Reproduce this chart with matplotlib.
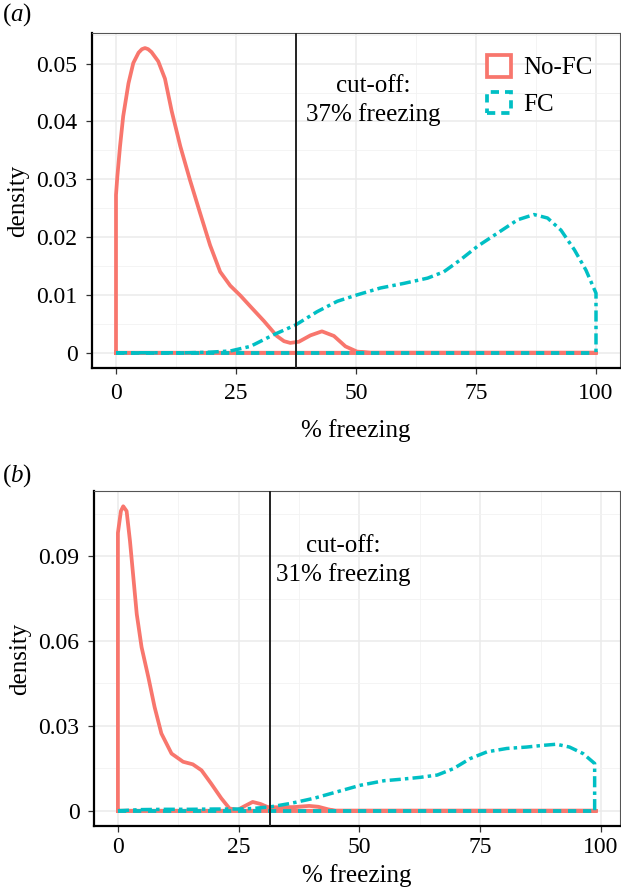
import matplotlib
matplotlib.use("Agg")
import matplotlib.pyplot as plt
from matplotlib.patches import Patch
from matplotlib.ticker import FixedLocator

plt.rcParams['font.family'] = ['Liberation Serif', 'DejaVu Serif']
plt.rcParams['mathtext.fontset'] = 'custom'
plt.rcParams['mathtext.rm'] = 'Liberation Serif'
plt.rcParams['mathtext.it'] = 'Liberation Serif:italic'

RED = '#F8766D'
TEAL = '#00BFC4'

# ---------------- data ----------------
# panel (a)
a_nofc_x = [0, 0, 0.28, 0.84, 1.5, 2.6, 3.6, 4.7, 5.4, 6.05, 6.7, 7.4, 8.8, 10.2, 11.6,
            13.4, 15.4, 17.5, 19.6, 21.7, 23.8, 25.9, 28.0, 30.8, 33.5, 35.0, 36.3,
            38.1, 40.5, 42.9, 45.4, 47.8, 50.2, 53, 100]
a_nofc_y = [0, 0.0273, 0.0305, 0.0357, 0.0409, 0.0466, 0.0501, 0.0519, 0.0525, 0.0527,
            0.0525, 0.0520, 0.0504, 0.0474, 0.0418, 0.0357, 0.0299, 0.0242, 0.0186,
            0.0140, 0.0116, 0.0099, 0.0080, 0.0055, 0.0029, 0.0020, 0.0017, 0.0019,
            0.0030, 0.0037, 0.0029, 0.0011, 0.0002, 0.0, 0.0]
a_fc_x = [0, 15, 19.6, 23.8, 28.0, 32.8, 37.4, 41.9, 46.1, 50.2, 55.1, 60.0, 64.9,
          68.3, 71.8, 75.3, 79.5, 83.7, 87.1, 89.9, 92.7, 95.5, 97.9, 100, 100]
a_fc_y = [0, 0, 0.0001, 0.0003, 0.0011, 0.0031, 0.0048, 0.0071, 0.0089, 0.0100,
          0.0112, 0.0120, 0.0129, 0.0140, 0.0161, 0.0184, 0.0207, 0.0230, 0.0239,
          0.0233, 0.0212, 0.0178, 0.0143, 0.0103, 0]

# panel (b)
b_nofc_x = [0, 0, 0.62, 1.1, 1.8, 2.5, 3.2, 3.9, 4.9, 6.3, 7.6, 9.0, 11.1, 13.5, 15.5,
            17.3, 19.3, 21.4, 23.1, 24.8, 26.2, 27.9, 29.5, 31.0, 33.5, 36.5, 39.6,
            41.5, 43.5, 45.0, 99]
b_nofc_y = [0, 0.0982, 0.1059, 0.1076, 0.1059, 0.0953, 0.0824, 0.0695, 0.0578,
            0.0472, 0.0366, 0.0273, 0.0202, 0.0173, 0.0164, 0.0143, 0.0096, 0.0044,
            0.0008, 0.0003, 0.0016, 0.0031, 0.0024, 0.0013, 0.0012, 0.0013, 0.0017,
            0.0014, 0.0005, 0.0, 0.0]
b_fc_x = [0, 5, 10, 15, 20, 25, 28, 31.7, 35.8, 40.6, 45.4, 50.2, 55.1, 58.5, 62.6,
          66.1, 69.5, 72.9, 76.4, 80.5, 84.6, 88.0, 90.8, 93.5, 96.3, 98.7, 98.7]
b_fc_y = [0, 0.0004, 0.0005, 0.0005, 0.0006, 0.0006, 0.0008, 0.0014, 0.0026, 0.0044,
          0.0067, 0.0090, 0.0106, 0.0111, 0.0118, 0.0126, 0.0149, 0.0184, 0.0208,
          0.0220, 0.0225, 0.0231, 0.0235, 0.0225, 0.0202, 0.0167, 0]

cutoffs = [37.4, 31.5]
cutoff_texts = ['cut-off:\n37% freezing', 'cut-off:\n31% freezing']
x_ticks = [0, 25, 50, 75, 100]
x_ticklabels = ['0', '25', '50', '75', '100']
a_yticks = [0, 0.01, 0.02, 0.03, 0.04, 0.05]
a_yticklabels = ['0', '0.01', '0.02', '0.03', '0.04', '0.05']
b_yticks = [0, 0.03, 0.06, 0.09]
b_yticklabels = ['0', '0.03', '0.06', '0.09']
series_labels = ['No-FC', 'FC']

# ---------------- figure ----------------
W, H = 621, 888
fig = plt.figure(figsize=(W / 100, H / 100), dpi=100)


def px_axes(l, t, r, b):
    return fig.add_axes([l / W, 1 - b / H, (r - l) / W, (b - t) / H])


ax_a = px_axes(92, 33, 620, 368)
ax_b = px_axes(94, 491, 620, 826)

FC_DASH = (0, (3.2, 1.2, 1.0, 1.2))


def style(ax, yticks, yticklabels, xlim, ylim, yminor, xpad, xlabelpad):
    ax.set_xlim(*xlim)
    ax.set_ylim(*ylim)
    ax.xaxis.set_major_locator(FixedLocator(x_ticks))
    ax.set_xticklabels(x_ticklabels)
    ax.yaxis.set_major_locator(FixedLocator(yticks))
    ax.set_yticklabels(yticklabels)
    ax.xaxis.set_minor_locator(FixedLocator([12.5, 37.5, 62.5, 87.5]))
    ax.yaxis.set_minor_locator(FixedLocator(yminor))
    ax.grid(True, which='major', color='#EBEBEB', linewidth=1.1, zorder=0)
    ax.grid(True, which='minor', color='#F2F2F2', linewidth=0.6, zorder=0)
    ax.set_axisbelow(True)
    ax.tick_params(axis='both', which='major', labelsize=17, length=4,
                   width=0.9, color='#333333', labelcolor='black')
    ax.tick_params(axis='x', which='major', pad=xpad)
    ax.tick_params(axis='y', which='major', pad=6.5)
    ax.tick_params(axis='both', which='minor', length=0)
    for s in ['left', 'bottom']:
        ax.spines[s].set_color('black')
        ax.spines[s].set_linewidth(1.6)
    for s in ['top', 'right']:
        ax.spines[s].set_color('#555555')
        ax.spines[s].set_linewidth(0.8)
    ax.set_ylabel('density', fontsize=18, labelpad=5)
    ax.set_xlabel('% freezing', fontsize=18, labelpad=xlabelpad)


def draw(ax, nx, ny, fx, fy, cut, ctext, ctx, cty):
    ax.plot(nx + nx[:1], ny + ny[:1], color=RED, lw=2.7, solid_joinstyle='round', zorder=3)
    ax.plot([nx[0], nx[-1]], [0, 0], color=RED, lw=2.7, zorder=3)
    ax.plot(fx, fy, color=TEAL, lw=2.5, linestyle=FC_DASH, zorder=4)
    ax.plot([fx[0], fx[-1]], [0, 0], color=TEAL, lw=2.7, linestyle=(0, (2.2, 1.8)), zorder=4)
    ax.axvline(cut, color='#222222', lw=1.4, zorder=5)
    ax.text(ctx, cty, ctext, ha='center', va='center', fontsize=18, linespacing=1.35, zorder=6)


draw(ax_a, a_nofc_x, a_nofc_y, a_fc_x, a_fc_y, cutoffs[0], cutoff_texts[0], 53.6, 0.0436)
style(ax_a, a_yticks, a_yticklabels, (-5, 105), (-0.00264, 0.0553),
      [0.005, 0.015, 0.025, 0.035, 0.045, 0.055], 6.5, 11)

draw(ax_b, b_nofc_x, b_nofc_y, b_fc_x, b_fc_y, cutoffs[1], cutoff_texts[1], 46.7, 0.0885)
style(ax_b, b_yticks, b_yticklabels, (-4.95, 103.95), (-0.0054, 0.1130),
      [0.015, 0.045, 0.075, 0.105], 4, 4)

handles = [Patch(facecolor='white', edgecolor=RED, linewidth=2.7, label=series_labels[0]),
           Patch(facecolor='white', edgecolor=TEAL, linewidth=2.7,
                 linestyle=(0, (2.2, 1.6)), label=series_labels[1])]
leg = ax_a.legend(handles=handles, loc='upper left',
                  bbox_to_anchor=(487 / W, 1 - 55 / H), bbox_transform=fig.transFigure,
                  frameon=False, fontsize=18, handlelength=0.95, handleheight=0.95,
                  handletextpad=0.5, labelspacing=0.5, borderpad=0, borderaxespad=0)

fig.text(2 / W, 1 - 15 / H, r'($\it{a}$)', fontsize=18, ha='left', va='center')
fig.text(2 / W, 1 - 476 / H, r'($\it{b}$)', fontsize=18, ha='left', va='center')

fig.savefig('out.png', dpi=100)
